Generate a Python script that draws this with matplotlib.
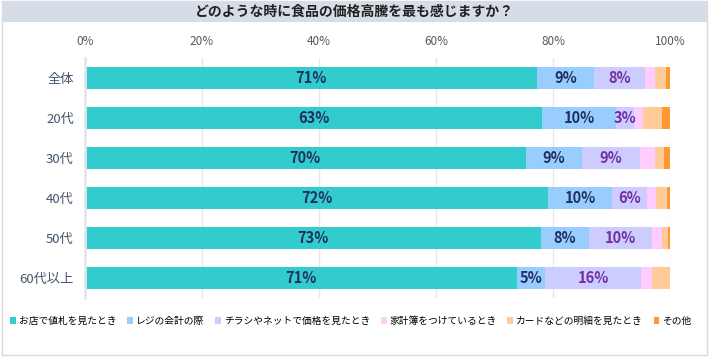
import matplotlib.pyplot as plt
from matplotlib.patches import Rectangle
import numpy as np

plt.rcParams['font.family'] = ['Noto Sans CJK JP', 'DejaVu Sans']

title = "どのような時に食品の価格高騰を最も感じますか？"
groups = ["全体", "20代", "30代", "40代", "50代", "60代以上"]
series = ["お店で値札を見たとき", "レジの会計の際", "チラシやネットで価格を見たとき",
          "家計簿をつけているとき", "カードなどの明細を見たとき", "その他"]
colors = ["#33cccc", "#99ccff", "#ccccff", "#ffccff", "#ffcc99", "#ff9933"]

# bar lengths (%)
store = [77.3, 78.2, 75.3, 79.2, 77.9, 73.8]
register = [9.7, 12.6, 9.7, 10.9, 8.3, 4.9]
flyer = [8.7, 3.0, 9.9, 6.0, 10.7, 16.4]
budget = [1.8, 1.6, 2.6, 1.5, 1.8, 1.8]
card = [1.9, 3.2, 1.5, 1.9, 0.9, 3.1]
other = [0.6, 1.4, 1.0, 0.5, 0.4, 0.0]

# labels printed on the bars
store_lbl = ["71%", "63%", "70%", "72%", "73%", "71%"]
register_lbl = ["9%", "10%", "9%", "10%", "8%", "5%"]
flyer_lbl = ["8%", "3%", "9%", "6%", "10%", "16%"]

values = [store, register, flyer, budget, card, other]
labels = [store_lbl, register_lbl, flyer_lbl, None, None, None]
label_colors = ["#1f2f5f", "#1f2f5f", "#7030a0"]

fig = plt.figure(figsize=(7.09, 3.57), dpi=100)
fig.patches.append(Rectangle((0.003, 0.006), 0.994, 0.99, transform=fig.transFigure,
                             facecolor="white", edgecolor="#d9d9d9", lw=1, zorder=-2))
fig.patches.append(Rectangle((0.003, 1 - 22 / 357), 0.994, 21 / 357, transform=fig.transFigure,
                             facecolor="#d6dde6", edgecolor="none", zorder=-1))
fig.text(0.5, 1 - 12 / 357, title, ha="center", va="center", fontsize=10,
         fontweight="bold", color="#222222")

ax = fig.add_axes([85 / 709, 1 - 298 / 357, 585 / 709, 240 / 357])
y = np.arange(len(groups))
left = np.zeros(len(groups))
for vals, col, name, lbl in zip(values, colors, series, labels):
    vals = np.array(vals)
    ax.barh(y, vals, left=left, height=0.56, color=col, label=name, zorder=2)
    if lbl is not None:
        lc = label_colors[series.index(name)]
        for yi, l, v, t in zip(y, left, vals, lbl):
            ax.text(l + v / 2, yi, t, ha="center", va="center", fontsize=10.5,
                    fontweight="bold", color=lc, zorder=3)
    left += vals

ax.set_xlim(0, 100)
ax.set_ylim(len(groups) - 0.5, -0.5)
ax.set_yticks(y)
ax.set_yticklabels(groups, fontsize=9.5, color="#44546a")
ax.set_xticks(np.arange(0, 101, 20))
ax.set_xticklabels([f"{v}%" for v in range(0, 101, 20)], fontsize=8.5, color="#595959")
ax.xaxis.tick_top()
ax.tick_params(axis="x", length=0, pad=7)
ax.tick_params(axis="y", length=0, pad=8)
ax.grid(axis="x", color="#e6e8ee", lw=1, zorder=0)
for s in ["top", "right", "bottom"]:
    ax.spines[s].set_visible(False)
ax.spines["left"].set_color("#e3e8ee")
ax.spines["left"].set_linewidth(2)

handles, names = ax.get_legend_handles_labels()
fig.legend(handles, names, loc="center", bbox_to_anchor=(0.495, 1 - 321 / 357), ncol=6,
           frameon=False, fontsize=7, handlelength=0.6, handleheight=0.6,
           handletextpad=0.3, columnspacing=1.1)

fig.savefig("out.png", dpi=100)
